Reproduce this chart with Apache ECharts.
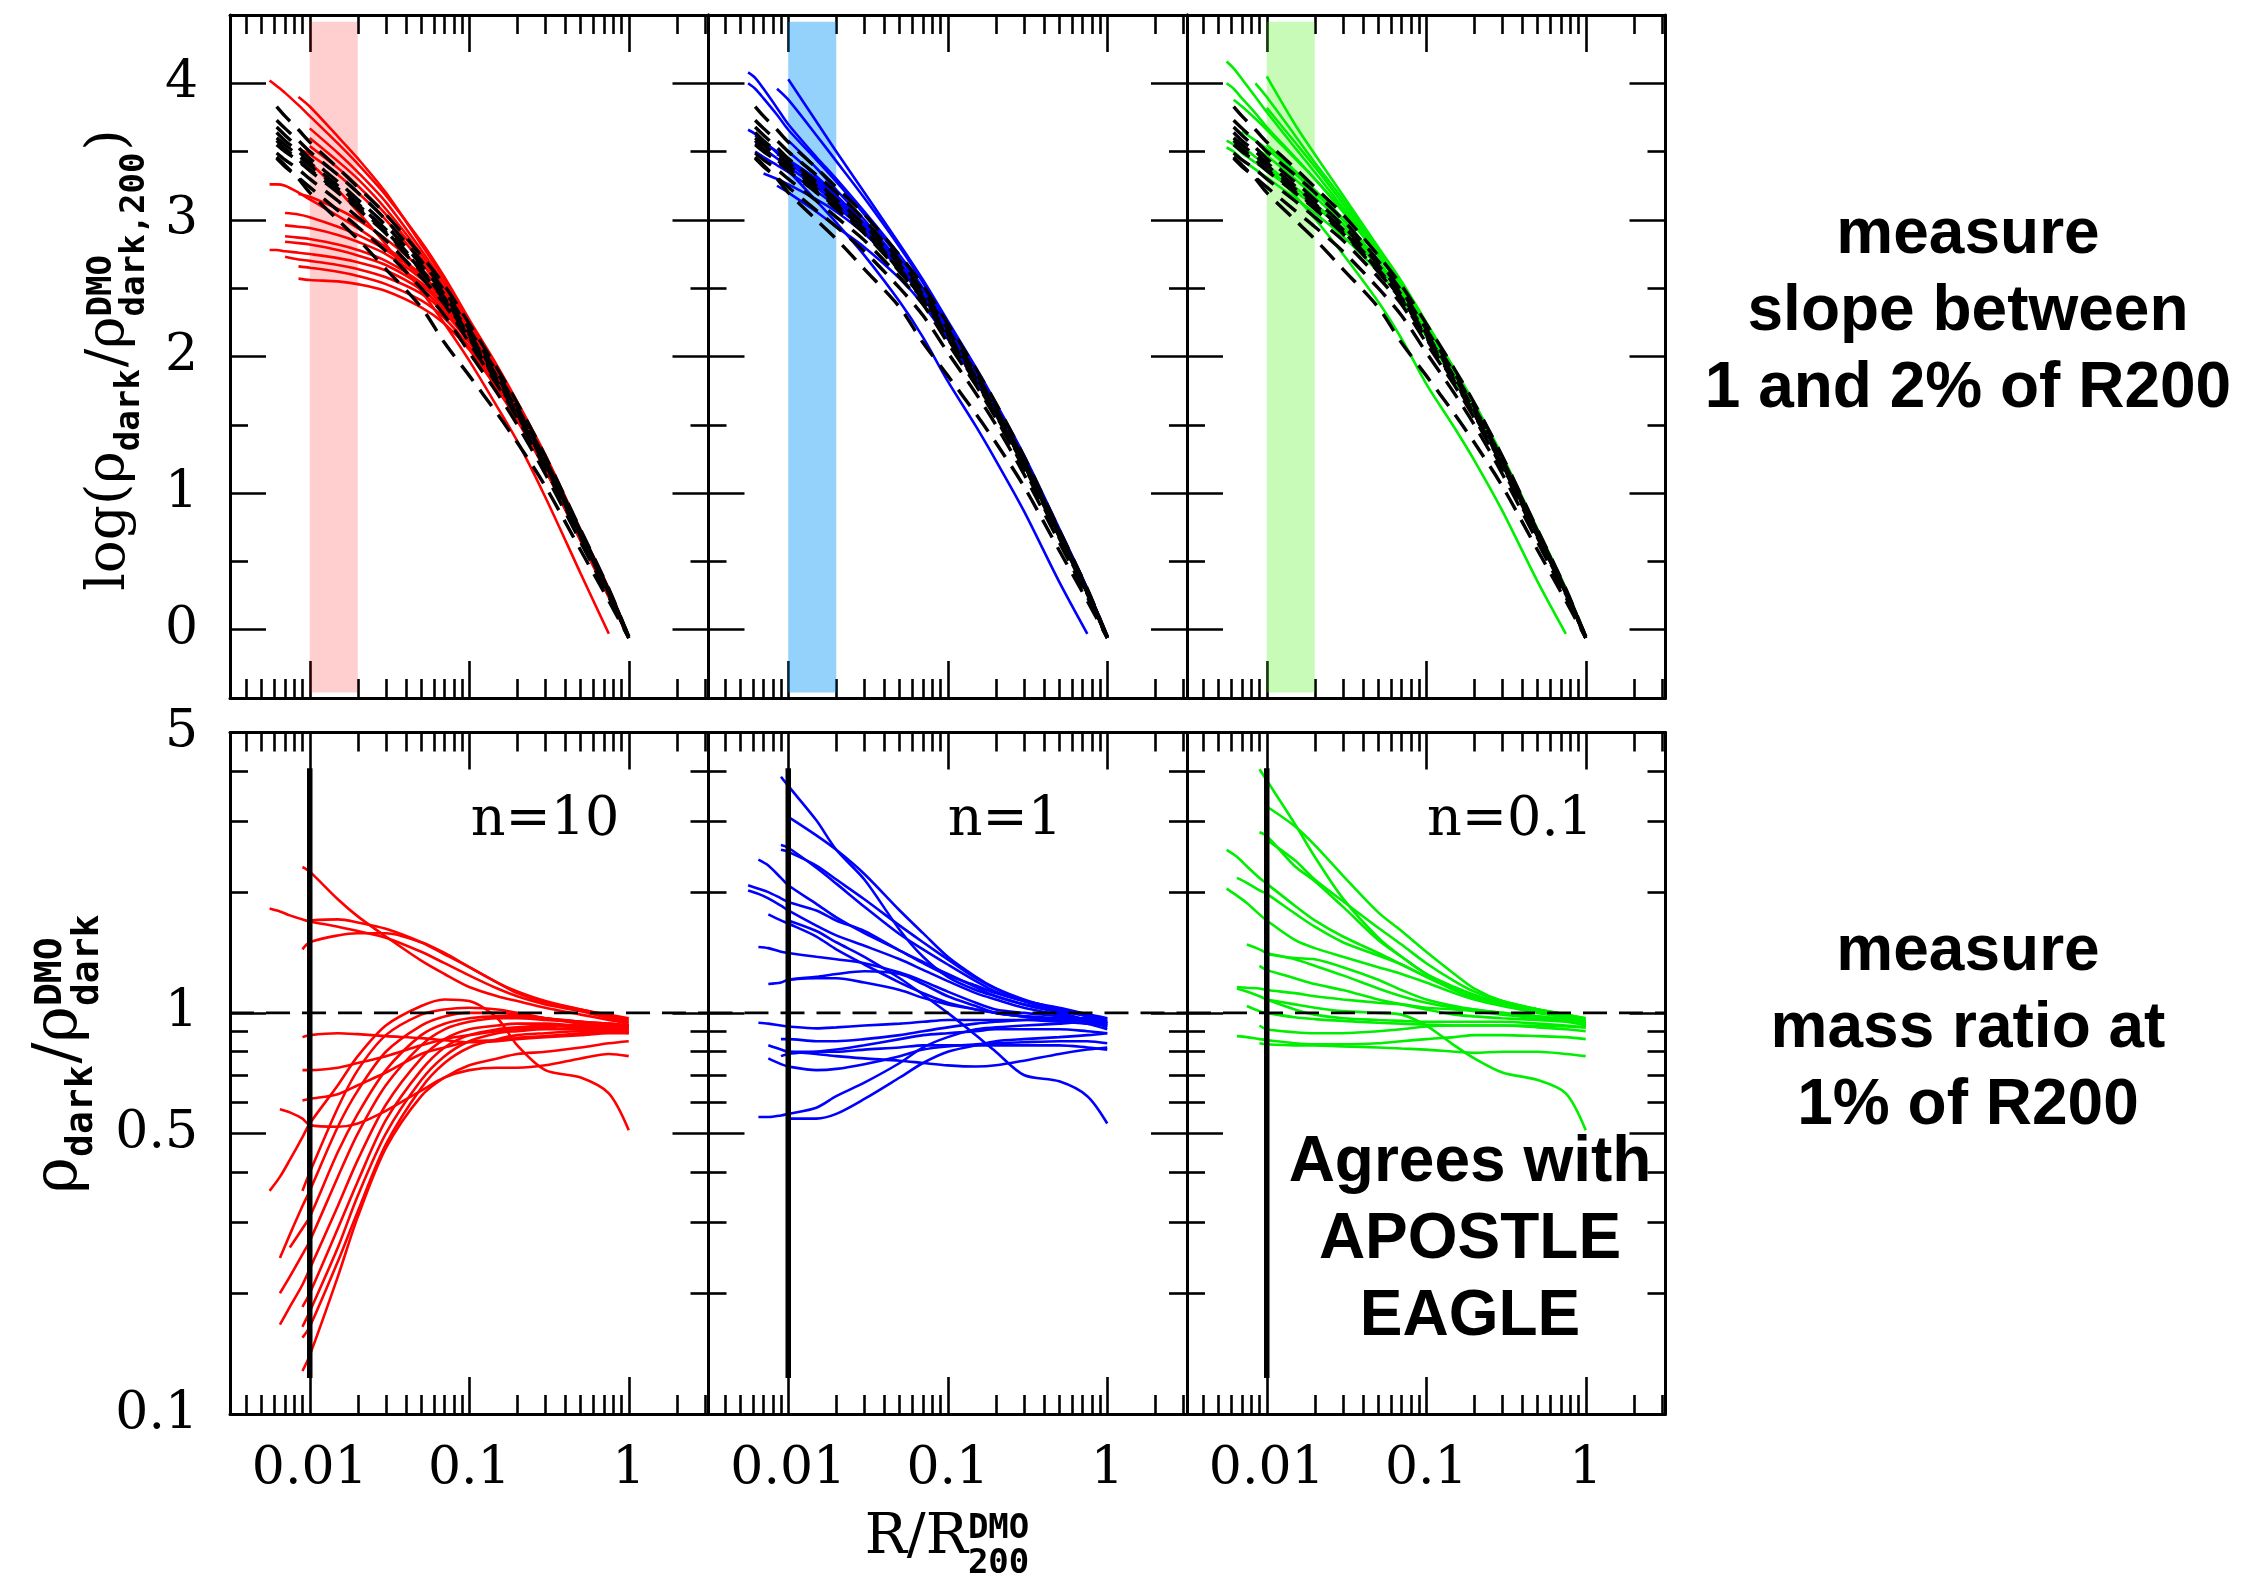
<!DOCTYPE html>
<html><head><meta charset="utf-8">
<script src="https://cdn.jsdelivr.net/npm/echarts@6/dist/echarts.min.js"></script>
<style>html,body{margin:0;padding:0;background:#fff}#c{width:2256px;height:1576px}</style>
</head><body><div id="c"></div><script>
// ---------------- DATA ----------------
const R_TOP = [0.0056, 0.0062, 0.007, 0.0085, 0.01, 0.015, 0.02, 0.03, 0.05, 0.07, 0.1, 0.15, 0.2, 0.3, 0.5, 0.75, 1.0];
const R_BOT = [0.0056, 0.0065, 0.0075, 0.009, 0.01, 0.015, 0.02, 0.03, 0.05, 0.07, 0.1, 0.15, 0.2, 0.3, 0.5, 0.75, 1.0];

const TOP_DMO = [
  [null, 3.83, 3.76, 3.66, 3.57, 3.38, 3.24, 3.04, 2.74, 2.52, 2.24, 1.91, 1.66, 1.27, 0.73, 0.30, -0.05],
  [null, 3.73, 3.67, 3.58, 3.50, 3.33, 3.20, 3.00, 2.70, 2.48, 2.20, 1.88, 1.63, 1.25, 0.72, 0.29, -0.05],
  [null, 3.68, 3.62, 3.53, 3.45, 3.28, 3.15, 2.96, 2.67, 2.45, 2.17, 1.85, 1.60, 1.23, 0.70, 0.28, -0.06],
  [null, 3.60, 3.55, 3.47, 3.40, 3.23, 3.11, 2.93, 2.64, 2.43, 2.15, 1.83, 1.58, 1.21, 0.69, 0.27, -0.06],
  [null, 3.55, 3.50, 3.43, 3.36, 3.20, 3.08, 2.90, 2.62, 2.41, 2.13, 1.81, 1.57, 1.20, 0.68, 0.27, -0.06],
  [null, 3.49, 3.44, 3.37, 3.30, 3.14, 3.02, 2.85, 2.58, 2.38, 2.10, 1.79, 1.55, 1.18, 0.67, 0.26, -0.06],
  [null, 3.45, 3.39, 3.31, 3.24, 3.07, 2.95, 2.77, 2.50, 2.30, 2.03, 1.73, 1.50, 1.14, 0.64, 0.24, -0.06],
  [null, 3.46, 3.40, 3.30, 3.20, 3.00, 2.86, 2.64, 2.36, 2.10, 1.86, 1.58, 1.37, 1.05, 0.58, 0.21, -0.06],
  [null, 3.58, 3.52, 3.44, 3.37, 3.21, 3.09, 2.91, 2.63, 2.42, 2.14, 1.82, 1.58, 1.21, 0.69, 0.27, -0.06],
  [null, 3.64, 3.58, 3.50, 3.42, 3.25, 3.12, 2.92, 2.63, 2.42, 2.16, 1.85, 1.61, 1.24, 0.71, 0.28, -0.05]
];

const TOP_RED = [
  [4.02, 3.98, 3.93, 3.84, 3.76, 3.56, 3.41, 3.18, 2.84, 2.58, 2.27, 1.93, 1.67, 1.28, 0.73, 0.30, -0.05],
  [null, null, null, 3.90, 3.83, 3.61, 3.45, 3.20, 2.82, 2.56, 2.25, 1.91, 1.65, 1.26, 0.72, 0.29, -0.05],
  [null, null, null, null, 3.67, 3.49, 3.35, 3.13, 2.78, 2.53, 2.22, 1.89, 1.63, 1.25, 0.71, 0.28, -0.05],
  [null, null, null, null, 3.60, 3.43, 3.30, 3.08, 2.75, 2.50, 2.20, 1.87, 1.61, 1.23, 0.70, 0.27, -0.05],
  [null, null, null, null, 3.54, 3.38, 3.25, 3.04, 2.72, 2.48, 2.18, 1.85, 1.60, 1.22, 0.69, 0.27, -0.05],
  [null, null, null, 3.52, 3.48, 3.33, 3.20, 3.00, 2.69, 2.45, 2.16, 1.83, 1.58, 1.20, 0.68, 0.26, -0.06],
  [null, null, null, null, 3.42, 3.22, 3.06, 2.82, 2.48, 2.24, 1.97, 1.63, 1.38, 0.97, 0.41, -0.03, null],
  [3.26, 3.26, 3.25, 3.20, 3.15, 3.03, 2.94, 2.80, 2.60, 2.42, 2.15, 1.83, 1.58, 1.20, 0.68, 0.26, -0.06],
  [null, null, null, 3.19, 3.17, 3.08, 3.00, 2.86, 2.64, 2.45, 2.17, 1.84, 1.59, 1.21, 0.68, 0.26, -0.06],
  [null, null, 3.05, 3.04, 3.02, 2.95, 2.89, 2.78, 2.59, 2.42, 2.16, 1.83, 1.58, 1.20, 0.67, 0.26, -0.06],
  [null, null, 2.96, 2.95, 2.94, 2.89, 2.84, 2.75, 2.57, 2.40, 2.15, 1.82, 1.57, 1.19, 0.67, 0.25, -0.06],
  [null, null, 2.88, 2.87, 2.86, 2.82, 2.78, 2.70, 2.54, 2.38, 2.13, 1.81, 1.57, 1.19, 0.67, 0.25, -0.06],
  [null, null, 2.84, 2.83, 2.82, 2.78, 2.74, 2.67, 2.52, 2.36, 2.12, 1.81, 1.56, 1.19, 0.66, 0.25, -0.06],
  [2.78, 2.78, 2.77, 2.76, 2.75, 2.72, 2.69, 2.63, 2.49, 2.34, 2.11, 1.80, 1.56, 1.18, 0.66, 0.25, -0.06],
  [null, null, 2.73, 2.71, 2.70, 2.67, 2.64, 2.58, 2.46, 2.32, 2.10, 1.79, 1.55, 1.18, 0.66, 0.25, -0.06],
  [null, null, null, 2.57, 2.56, 2.55, 2.53, 2.48, 2.36, 2.24, 2.05, 1.76, 1.53, 1.17, 0.65, 0.24, -0.06],
  [null, null, null, 2.66, 2.65, 2.62, 2.59, 2.53, 2.41, 2.28, 2.07, 1.77, 1.54, 1.17, 0.65, 0.24, -0.06]
];

const TOP_BLUE = [
  [4.08, 4.04, 3.96, 3.82, 3.70, 3.46, 3.30, 3.06, 2.74, 2.50, 2.22, 1.89, 1.64, 1.26, 0.72, 0.29, -0.05],
  [4.00, 3.96, 3.89, 3.77, 3.66, 3.44, 3.28, 3.04, 2.72, 2.49, 2.21, 1.88, 1.63, 1.25, 0.72, 0.29, -0.05],
  [null, null, null, 3.96, 3.88, 3.62, 3.43, 3.16, 2.80, 2.54, 2.24, 1.90, 1.65, 1.27, 0.73, 0.30, -0.05],
  [null, null, null, null, 4.03, 3.72, 3.50, 3.20, 2.82, 2.56, 2.26, 1.92, 1.66, 1.28, 0.74, 0.30, -0.05],
  [3.66, 3.63, 3.58, 3.49, 3.42, 3.26, 3.14, 2.96, 2.68, 2.46, 2.19, 1.86, 1.61, 1.24, 0.71, 0.28, -0.05],
  [null, 3.56, 3.52, 3.45, 3.39, 3.24, 3.12, 2.94, 2.66, 2.45, 2.17, 1.85, 1.60, 1.23, 0.70, 0.28, -0.05],
  [null, null, 3.34, 3.30, 3.26, 3.15, 3.06, 2.90, 2.64, 2.43, 2.16, 1.84, 1.60, 1.22, 0.70, 0.27, -0.06],
  [null, null, null, 3.25, 3.20, 3.06, 2.95, 2.80, 2.57, 2.38, 2.13, 1.82, 1.58, 1.21, 0.69, 0.27, -0.06],
  [null, null, null, null, 3.58, 3.38, 3.22, 3.00, 2.69, 2.47, 2.19, 1.86, 1.62, 1.24, 0.71, 0.28, -0.05],
  [null, null, null, null, 3.50, 3.32, 3.18, 2.97, 2.67, 2.45, 2.17, 1.85, 1.61, 1.23, 0.70, 0.28, -0.05],
  [null, null, null, 3.48, 3.44, 3.30, 3.17, 2.97, 2.66, 2.44, 2.16, 1.84, 1.60, 1.23, 0.70, 0.27, -0.06],
  [null, null, null, null, 3.36, 3.14, 2.98, 2.74, 2.40, 2.14, 1.82, 1.49, 1.24, 0.87, 0.35, -0.03, null],
  [null, 3.50, 3.46, 3.40, 3.35, 3.21, 3.10, 2.92, 2.65, 2.44, 2.17, 1.85, 1.60, 1.23, 0.70, 0.27, -0.06],
  [null, 3.62, 3.57, 3.50, 3.44, 3.28, 3.16, 2.97, 2.68, 2.46, 2.18, 1.86, 1.61, 1.24, 0.71, 0.28, -0.05]
];

const TOP_GREEN = [
  [4.16, 4.11, 4.03, 3.90, 3.79, 3.53, 3.35, 3.09, 2.76, 2.51, 2.22, 1.89, 1.64, 1.26, 0.72, 0.29, -0.05],
  [4.00, 3.96, 3.89, 3.78, 3.68, 3.46, 3.30, 3.06, 2.74, 2.50, 2.21, 1.88, 1.63, 1.25, 0.72, 0.29, -0.05],
  [null, null, null, 4.00, 3.90, 3.62, 3.42, 3.15, 2.79, 2.53, 2.24, 1.90, 1.65, 1.27, 0.73, 0.30, -0.05],
  [null, null, null, null, 4.05, 3.70, 3.48, 3.18, 2.80, 2.55, 2.25, 1.91, 1.66, 1.27, 0.73, 0.30, -0.05],
  [null, 3.88, 3.83, 3.74, 3.66, 3.45, 3.30, 3.07, 2.74, 2.50, 2.21, 1.88, 1.63, 1.25, 0.72, 0.29, -0.05],
  [null, null, null, null, 3.82, 3.57, 3.39, 3.12, 2.77, 2.52, 2.23, 1.89, 1.64, 1.26, 0.72, 0.29, -0.05],
  [3.58, 3.55, 3.49, 3.42, 3.36, 3.21, 3.10, 2.93, 2.66, 2.45, 2.17, 1.85, 1.61, 1.24, 0.71, 0.28, -0.05],
  [null, 3.59, 3.54, 3.46, 3.40, 3.24, 3.12, 2.94, 2.67, 2.46, 2.18, 1.86, 1.61, 1.24, 0.71, 0.28, -0.05],
  [3.53, 3.50, 3.44, 3.37, 3.31, 3.16, 3.05, 2.88, 2.62, 2.42, 2.15, 1.83, 1.59, 1.22, 0.70, 0.27, -0.06],
  [null, null, null, null, 3.55, 3.36, 3.22, 3.01, 2.70, 2.47, 2.19, 1.86, 1.62, 1.24, 0.71, 0.28, -0.05],
  [null, null, null, 3.52, 3.47, 3.30, 3.17, 2.97, 2.67, 2.45, 2.17, 1.85, 1.60, 1.23, 0.70, 0.27, -0.06],
  [null, null, null, null, 3.40, 3.18, 3.01, 2.75, 2.40, 2.13, 1.80, 1.48, 1.24, 0.87, 0.35, -0.03, null],
  [null, null, 3.65, 3.58, 3.52, 3.34, 3.20, 3.00, 2.69, 2.46, 2.18, 1.86, 1.61, 1.24, 0.70, 0.28, -0.05]
];

const BOT_RED = [
  [null, null, null, 2.31, 2.25, 1.92, 1.74, 1.55, 1.35, 1.25, 1.16, 1.10, 1.07, 1.03, 0.99, 0.96, 0.94],
  [1.82, 1.79, 1.75, 1.71, 1.69, 1.64, 1.60, 1.54, 1.42, 1.33, 1.24, 1.15, 1.10, 1.05, 1.01, 0.97, 0.95],
  [null, null, null, 1.44, 1.50, 1.56, 1.58, 1.58, 1.50, 1.41, 1.30, 1.19, 1.12, 1.06, 1.02, 0.98, 0.96],
  [null, null, null, null, 1.70, 1.71, 1.68, 1.62, 1.50, 1.40, 1.30, 1.19, 1.13, 1.07, 1.02, 0.99, 0.97],
  [null, null, null, 0.87, 0.88, 0.89, 0.885, 0.875, 0.865, 0.855, 0.845, 0.85, 0.86, 0.87, 0.88, 0.89, 0.89],
  [null, null, null, 0.72, 0.72, 0.73, 0.75, 0.78, 0.83, 0.86, 0.88, 0.90, 0.91, 0.92, 0.93, 0.93, 0.93],
  [null, null, null, 0.605, 0.61, 0.627, 0.66, 0.71, 0.79, 0.82, 0.847, 0.856, 0.866, 0.875, 0.889, 0.898, 0.904],
  [null, 0.575, 0.565, 0.545, 0.525, 0.52, 0.53, 0.57, 0.64, 0.69, 0.72, 0.73, 0.73, 0.74, 0.77, 0.79, 0.78],
  [0.36, 0.39, 0.43, 0.49, 0.53, 0.66, 0.78, 0.93, 1.04, 1.08, 1.07, 0.97, 0.83, 0.72, 0.69, 0.63, 0.51],
  [null, null, null, 0.36, 0.40, 0.58, 0.72, 0.88, 0.99, 1.02, 1.03, 1.02, 1.00, 0.97, 0.94, 0.93, 0.92],
  [null, 0.245, 0.28, 0.33, 0.36, 0.52, 0.64, 0.80, 0.93, 0.98, 1.00, 1.00, 0.99, 0.97, 0.95, 0.93, 0.92],
  [null, null, 0.26, 0.29, 0.31, 0.45, 0.56, 0.72, 0.88, 0.94, 0.97, 0.98, 0.98, 0.97, 0.95, 0.94, 0.93],
  [null, 0.20, 0.22, 0.25, 0.27, 0.39, 0.50, 0.66, 0.83, 0.91, 0.95, 0.97, 0.97, 0.96, 0.95, 0.94, 0.93],
  [null, 0.167, 0.185, 0.21, 0.23, 0.33, 0.43, 0.59, 0.77, 0.86, 0.91, 0.93, 0.94, 0.94, 0.93, 0.93, 0.92],
  [null, null, null, 0.185, 0.20, 0.29, 0.38, 0.54, 0.72, 0.82, 0.88, 0.91, 0.92, 0.93, 0.92, 0.92, 0.91],
  [null, null, null, 0.165, 0.18, 0.26, 0.35, 0.50, 0.68, 0.78, 0.85, 0.89, 0.90, 0.91, 0.91, 0.91, 0.90],
  [null, null, null, 0.155, 0.165, 0.24, 0.32, 0.47, 0.65, 0.75, 0.82, 0.86, 0.88, 0.89, 0.90, 0.90, 0.89],
  [null, null, null, 0.128, 0.14, 0.22, 0.31, 0.46, 0.62, 0.69, 0.74, 0.77, 0.79, 0.80, 0.82, 0.84, 0.85]
];

const BOT_BLUE = [
  [null, null, null, 3.88, 3.68, 3.02, 2.55, 2.15, 1.61, 1.38, 1.23, 1.14, 1.10, 1.05, 1.01, 0.99, 0.97],
  [null, null, null, null, 3.08, 2.77, 2.55, 2.22, 1.80, 1.58, 1.38, 1.23, 1.15, 1.07, 1.02, 0.99, 0.96],
  [null, null, null, 2.62, 2.58, 2.30, 2.10, 1.84, 1.57, 1.44, 1.32, 1.20, 1.13, 1.07, 1.01, 0.98, 0.94],
  [null, null, null, 2.55, 2.52, 2.33, 2.15, 1.92, 1.65, 1.50, 1.36, 1.22, 1.15, 1.08, 1.02, 0.98, 0.95],
  [null, 2.41, 2.33, 2.17, 2.08, 1.87, 1.73, 1.58, 1.43, 1.33, 1.24, 1.17, 1.12, 1.07, 1.03, 0.99, 0.94],
  [2.08, 2.04, 2.00, 1.93, 1.89, 1.80, 1.70, 1.60, 1.43, 1.34, 1.25, 1.16, 1.10, 1.05, 1.00, 0.96, 0.93],
  [2.02, 1.98, 1.93, 1.85, 1.80, 1.65, 1.56, 1.47, 1.36, 1.28, 1.20, 1.12, 1.08, 1.03, 0.99, 0.96, 0.92],
  [null, null, 1.76, 1.70, 1.67, 1.55, 1.44, 1.32, 1.19, 1.12, 1.06, 1.02, 1.00, 0.98, 0.96, 0.94, 0.91],
  [null, 1.46, 1.45, 1.42, 1.41, 1.38, 1.36, 1.33, 1.26, 1.20, 1.13, 1.06, 1.02, 1.00, 0.98, 0.96, 0.94],
  [null, null, 1.18, 1.19, 1.21, 1.23, 1.25, 1.27, 1.25, 1.18, 1.10, 1.04, 1.00, 0.98, 0.96, 0.95, 0.93],
  [null, null, null, null, 1.21, 1.22, 1.22, 1.19, 1.14, 1.09, 1.05, 1.02, 1.00, 0.98, 0.97, 0.96, 0.95],
  [null, null, null, null, 1.70, 1.60, 1.50, 1.38, 1.22, 1.11, 1.00, 0.88, 0.80, 0.70, 0.675, 0.62, 0.53],
  [null, 0.945, 0.94, 0.93, 0.925, 0.915, 0.92, 0.93, 0.94, 0.95, 0.96, 0.96, 0.96, 0.96, 0.95, 0.94, 0.93],
  [null, null, null, 0.86, 0.86, 0.85, 0.85, 0.86, 0.88, 0.90, 0.92, 0.94, 0.95, 0.96, 0.97, 0.97, 0.97],
  [null, null, null, 0.78, 0.79, 0.80, 0.81, 0.83, 0.86, 0.88, 0.89, 0.90, 0.91, 0.91, 0.91, 0.90, 0.89],
  [null, null, 0.77, 0.745, 0.735, 0.72, 0.725, 0.745, 0.78, 0.81, 0.825, 0.835, 0.84, 0.845, 0.85, 0.85, 0.84],
  [null, null, null, null, 0.80, 0.79, 0.78, 0.77, 0.76, 0.75, 0.74, 0.735, 0.74, 0.76, 0.79, 0.81, 0.82],
  [null, 0.55, 0.55, 0.555, 0.56, 0.58, 0.62, 0.67, 0.75, 0.82, 0.87, 0.91, 0.92, 0.93, 0.94, 0.95, 0.95],
  [null, null, null, null, 0.545, 0.545, 0.56, 0.61, 0.69, 0.75, 0.80, 0.83, 0.85, 0.86, 0.87, 0.88, 0.89],
  [null, null, 0.83, 0.81, 0.80, 0.80, 0.80, 0.81, 0.82, 0.83, 0.83, 0.83, 0.83, 0.83, 0.83, 0.82, 0.81]
];

const BOT_GREEN = [
  [null, null, null, 4.05, 3.80, 2.96, 2.45, 1.93, 1.54, 1.38, 1.25, 1.14, 1.09, 1.05, 1.02, 0.99, 0.97],
  [null, null, null, null, 3.27, 2.92, 2.62, 2.20, 1.78, 1.60, 1.42, 1.25, 1.15, 1.07, 1.02, 0.99, 0.97],
  [null, null, null, 2.82, 2.76, 2.32, 2.13, 1.84, 1.52, 1.38, 1.25, 1.16, 1.11, 1.06, 1.02, 0.99, 0.96],
  [null, null, null, null, 2.70, 2.40, 2.15, 1.90, 1.63, 1.48, 1.33, 1.20, 1.13, 1.07, 1.02, 0.98, 0.95],
  [2.55, 2.45, 2.32, 2.17, 2.10, 1.85, 1.70, 1.55, 1.41, 1.32, 1.23, 1.15, 1.10, 1.05, 1.01, 0.98, 0.94],
  [null, 2.17, 2.11, 2.02, 1.98, 1.77, 1.64, 1.50, 1.39, 1.32, 1.23, 1.14, 1.09, 1.05, 1.01, 0.98, 0.95],
  [2.04, 1.96, 1.88, 1.76, 1.70, 1.52, 1.45, 1.38, 1.30, 1.25, 1.19, 1.12, 1.08, 1.04, 1.00, 0.97, 0.93],
  [null, null, 1.48, 1.44, 1.41, 1.36, 1.31, 1.24, 1.15, 1.10, 1.06, 1.03, 1.02, 1.00, 0.98, 0.96, 0.94],
  [null, null, null, null, 1.40, 1.37, 1.36, 1.30, 1.21, 1.14, 1.08, 1.04, 1.02, 1.00, 0.98, 0.96, 0.94],
  [null, null, null, 1.31, 1.28, 1.22, 1.18, 1.14, 1.08, 1.05, 1.02, 0.99, 0.98, 0.97, 0.96, 0.95, 0.93],
  [null, 1.16, 1.155, 1.15, 1.14, 1.12, 1.10, 1.08, 1.06, 1.05, 1.03, 1.02, 1.01, 0.99, 0.97, 0.96, 0.94],
  [null, 1.15, 1.13, 1.10, 1.08, 1.02, 0.99, 0.97, 0.96, 0.955, 0.95, 0.95, 0.95, 0.95, 0.94, 0.93, 0.92],
  [null, null, null, null, 1.08, 1.05, 1.03, 1.01, 1.00, 0.99, 0.93, 0.83, 0.77, 0.71, 0.68, 0.63, 0.51],
  [null, null, 1.04, 1.01, 1.00, 0.975, 0.965, 0.955, 0.945, 0.94, 0.935, 0.93, 0.93, 0.93, 0.92, 0.91, 0.90],
  [null, null, null, 0.93, 0.91, 0.895, 0.89, 0.89, 0.90, 0.91, 0.925, 0.93, 0.93, 0.93, 0.93, 0.925, 0.92],
  [null, 0.875, 0.87, 0.86, 0.855, 0.84, 0.835, 0.835, 0.84, 0.85, 0.86, 0.87, 0.88, 0.88, 0.875, 0.87, 0.86],
  [null, null, null, 0.84, 0.835, 0.83, 0.83, 0.825, 0.82, 0.815, 0.81, 0.80, 0.795, 0.80, 0.80, 0.79, 0.78]
];

const X_TICKS_MAJOR = [0.01, 0.1, 1];
const X_TICKS_MINOR = [0.004, 0.005, 0.006, 0.007, 0.008, 0.009, 0.02, 0.03, 0.04, 0.05, 0.06, 0.07, 0.08, 0.09, 0.2, 0.3, 0.4, 0.5, 0.6, 0.7, 0.8, 0.9, 2, 3];
const X_LABELS = [0.01, 0.1, 1];
const YT_TICKS_MAJOR = [0, 1, 2, 3, 4];
const YT_TICKS_MINOR = [0.5, 1.5, 2.5, 3.5];
const YT_LABELS = [0, 1, 2, 3, 4];
const YB_TICKS_MAJOR = [0.1, 0.5, 1, 5];
const YB_TICKS_MINOR = [0.2, 0.3, 0.4, 0.6, 0.7, 0.8, 0.9, 2, 3, 4];
const YB_LABELS = [0.1, 0.5, 1, 5];
const BAND_R = [0.01, 0.02];
const BAND_Y = [-0.46, 4.45];
const CUT_R = 0.01;
const CUT_Y = [0.123, 4.07];
const UNITY = 1;
const PANEL_LABELS = ['n=10', 'n=1', 'n=0.1'];
const NOTE_TOP = 'measure\nslope between\n1 and 2% of R200';
const NOTE_BOT = 'measure\nmass ratio at\n1% of R200';
const NOTE_AGREE = 'Agrees with\nAPOSTLE\nEAGLE';

// ---------------- LAYOUT / STYLE ----------------
const XMIN = Math.pow(10, -2.5), XMAX = Math.pow(10, 0.5);
const COLORS = ['#ff0000', '#0000ff', '#00ee00'];
const BAND_COLORS = ['rgba(255,0,0,0.19)', 'rgba(0,145,245,0.42)', 'rgba(60,240,0,0.28)'];
const PL = 230, PW = 478.5, TOPS = [15, 732.5], HS = [683, 681.5];
const NUM_FONT = 'DejaVu Serif';
const NUM_SIZE = 52;
const fmt = v => String(Number((+v).toPrecision(4)));

const grids = [], xAxes = [], yAxes = [], series = [];
const axLine = {show: true, onZero: false, lineStyle: {color: '#000', width: 3}};
const noLine = {show: false, onZero: false};
const tk = (vals, len) => ({show: true, inside: true, length: len, customValues: vals, lineStyle: {color: '#000', width: 2.6}});

for (let row = 0; row < 2; row++) for (let col = 0; col < 3; col++) {
  const g = row * 3 + col;
  grids.push({left: PL + PW * col, top: TOPS[row], width: PW, height: HS[row], containLabel: false});
  const xb = {gridIndex: g, type: 'log', logBase: 10, min: XMIN, max: XMAX, splitLine: {show: false}, minorTick: {show: false}};
  xAxes.push(Object.assign({}, xb, {position: 'bottom', axisLine: axLine, axisTick: tk(X_TICKS_MAJOR, 37),
    axisLabel: {show: row === 1, customValues: X_LABELS, formatter: fmt, margin: 29, color: '#000', fontFamily: NUM_FONT, fontSize: NUM_SIZE}}));
  xAxes.push(Object.assign({}, xb, {position: 'bottom', axisLine: noLine, axisTick: tk(X_TICKS_MINOR, 19), axisLabel: {show: false}}));
  xAxes.push(Object.assign({}, xb, {position: 'top', axisLine: axLine, axisTick: tk(X_TICKS_MAJOR, 37), axisLabel: {show: false}}));
  xAxes.push(Object.assign({}, xb, {position: 'top', axisLine: noLine, axisTick: tk(X_TICKS_MINOR, 19), axisLabel: {show: false}}));

  const yb = row === 0
    ? {gridIndex: g, type: 'value', min: -0.5, max: 4.5, splitLine: {show: false}}
    : {gridIndex: g, type: 'log', logBase: 10, min: 0.1, max: 5, splitLine: {show: false}};
  const yMaj = row === 0 ? YT_TICKS_MAJOR : YB_TICKS_MAJOR;
  const yMin = row === 0 ? YT_TICKS_MINOR : YB_TICKS_MINOR;
  const yLab = row === 0 ? YT_LABELS : YB_LABELS;
  yAxes.push(Object.assign({}, yb, {position: 'left', axisLine: axLine, axisTick: tk(yMaj, 36),
    axisLabel: {show: col === 0, customValues: yLab, formatter: fmt, margin: 32, color: '#000', fontFamily: NUM_FONT, fontSize: NUM_SIZE}}));
  yAxes.push(Object.assign({}, yb, {position: 'left', axisLine: noLine, axisTick: tk(yMin, 18), axisLabel: {show: false}}));
  yAxes.push(Object.assign({}, yb, {position: 'right', axisLine: axLine, axisTick: tk(yMaj, 36), axisLabel: {show: false}}));
  yAxes.push(Object.assign({}, yb, {position: 'right', axisLine: noLine, axisTick: tk(yMin, 18), axisLabel: {show: false}}));
}

function pts(R, arr) { const o = []; arr.forEach((v, i) => { if (v !== null) o.push([R[i], v]); }); return o; }
function curve(g, data, color, width, type, z) {
  return {type: 'line', xAxisIndex: 4 * g, yAxisIndex: 4 * g, data: data, symbol: 'none', showSymbol: false,
    smooth: 0.3, silent: true, animation: false, z: z, lineStyle: {color: color, width: width, type: type}};
}

const TOPS_DATA = [TOP_RED, TOP_BLUE, TOP_GREEN];
const BOTS_DATA = [BOT_RED, BOT_BLUE, BOT_GREEN];
for (let col = 0; col < 3; col++) {
  TOPS_DATA[col].forEach(a => series.push(curve(col, pts(R_TOP, a), COLORS[col], 2.6, 'solid', 2)));
  TOP_DMO.forEach(a => series.push(curve(col, pts(R_TOP, a), '#000', 3.4, [20, 11], 3)));
  series.push({type: 'line', xAxisIndex: 4 * col, yAxisIndex: 4 * col, data: [], silent: true, animation: false, z: 5,
    markArea: {silent: true, animation: false, itemStyle: {color: BAND_COLORS[col]},
      data: [[{coord: [BAND_R[0], BAND_Y[1]]}, {coord: [BAND_R[1], BAND_Y[0]]}]]}});
  const g = 3 + col;
  BOTS_DATA[col].forEach(a => series.push(curve(g, pts(R_BOT, a), COLORS[col], 2.6, 'solid', 2)));
  series.push(Object.assign(curve(g, [[XMIN, UNITY], [XMAX, UNITY]], '#000', 2.8, [24, 12], 4), {smooth: false}));
  series.push(Object.assign(curve(g, [[CUT_R, CUT_Y[0]], [CUT_R, CUT_Y[1]]], '#000', 5.5, 'solid', 6), {smooth: false}));
}

// ---------------- TEXT ----------------
const mctx = document.createElement('canvas').getContext('2d');
function tw(t, f) { mctx.font = f; return mctx.measureText(t).width; }
function mathText(parts, cx, cy, rot, ms, ss) {
  const MF = ms + 'px "DejaVu Serif"', SF = 'bold ' + ss + 'px "DejaVu Sans Mono"';
  const items = []; let x = 0;
  parts.forEach(p => {
    if (p.stack) {
      const w = Math.max(tw(p.stack[0], SF), tw(p.stack[1], SF));
      items.push({t: p.stack[0], f: SF, x: x, dy: -0.15 * ms});
      items.push({t: p.stack[1], f: SF, x: x, dy: 0.46 * ms});
      x += w + 2;
    } else if (p.sub) {
      items.push({t: p.sub, f: SF, x: x, dy: 0.36 * ms}); x += tw(p.sub, SF) + 2;
    } else {
      items.push({t: p.t, f: MF, x: x, dy: 0}); x += tw(p.t, MF);
    }
  });
  const off = -x / 2;
  return {type: 'group', x: cx, y: cy, rotation: rot, silent: true,
    children: items.map(it => ({type: 'text', x: it.x + off, y: it.dy,
      style: {text: it.t, font: it.f, fill: '#000', align: 'left', verticalAlign: 'middle'}}))};
}

const graphics = [];
graphics.push(mathText([{t: 'log(ρ'}, {sub: 'dark'}, {t: '/ρ'}, {stack: ['DMO', 'dark,200']}, {t: ')'}], 110, 360, Math.PI / 2, 55, 34));
graphics.push(mathText([{t: 'ρ'}, {sub: 'dark'}, {t: '/ρ'}, {stack: ['DMO', 'dark']}], 60, 1053, Math.PI / 2, 62, 38));
graphics.push(mathText([{t: 'R/R'}, {stack: ['DMO', '200']}], 948, 1538, 0, 56, 34));

const NPOS = [[545, 821], [1005, 821], [1510, 821]];
PANEL_LABELS.forEach((t, i) => graphics.push({type: 'text', x: NPOS[i][0], y: NPOS[i][1], silent: true,
  style: {text: t, font: '54px "DejaVu Serif"', fill: '#000', align: 'center', verticalAlign: 'middle'}}));
const BOLD = 'bold 64px "Liberation Sans"';
graphics.push({type: 'text', x: 1968, y: 312, silent: true, style: {text: NOTE_TOP, font: BOLD, lineHeight: 77, fill: '#000', align: 'center', verticalAlign: 'middle'}});
graphics.push({type: 'text', x: 1968, y: 1029, silent: true, style: {text: NOTE_BOT, font: BOLD, lineHeight: 77, fill: '#000', align: 'center', verticalAlign: 'middle'}});
graphics.push({type: 'text', x: 1470, y: 1240, silent: true, style: {text: NOTE_AGREE, font: BOLD, lineHeight: 77, fill: '#000', align: 'center', verticalAlign: 'middle'}});

const chart = echarts.init(document.getElementById('c'), null, {renderer: 'canvas', width: 2256, height: 1576});
chart.setOption({
  animation: false,
  backgroundColor: '#ffffff',
  grid: grids, xAxis: xAxes, yAxis: yAxes, series: series, graphic: graphics
});
</script></body></html>
